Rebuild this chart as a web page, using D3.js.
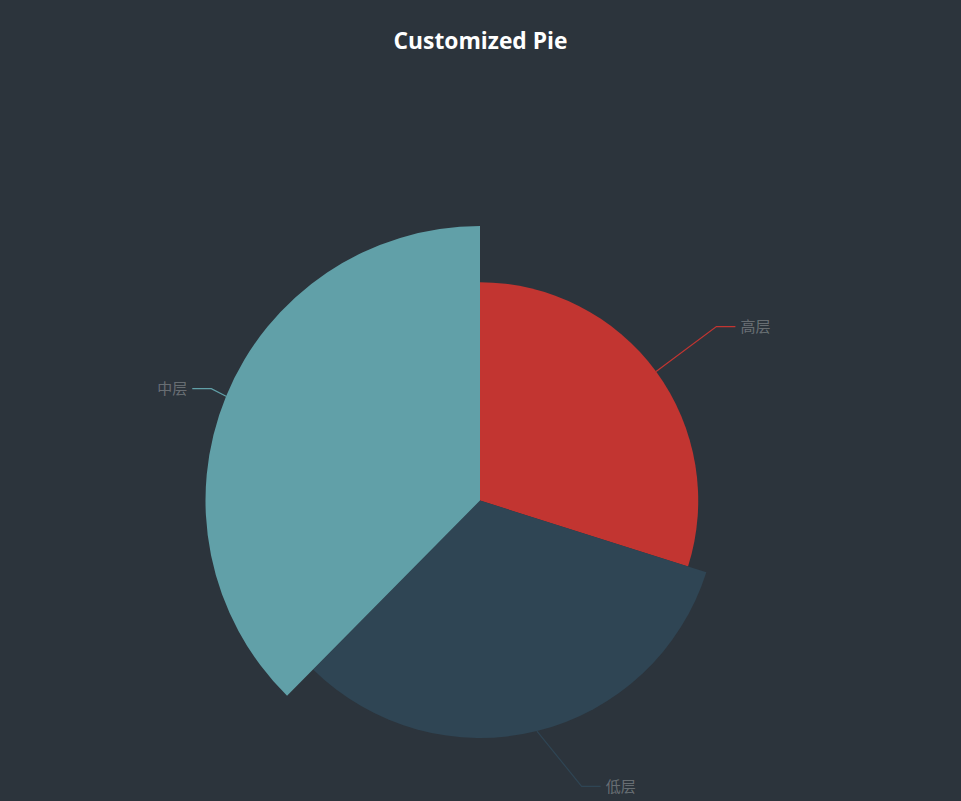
<!DOCTYPE html>
<html>
<head>
<meta charset="utf-8">
<script src="https://cdnjs.cloudflare.com/ajax/libs/d3/7.8.5/d3.min.js"></script>
<style>
  html, body { margin: 0; padding: 0; background: #2c343c; }
  svg { display: block; }
</style>
</head>
<body>
<svg id="chart" width="961" height="801"></svg>
<script>
// ---- data ----
const categories = ["高层", "低层", "中层"];
const values = [318, 346, 400];
const colors = ["#c23531", "#2f4554", "#61a0a8"];
const titleText = "Customized Pie";

// ---- layout ----
const W = 961, H = 801;
const cx = 480, cy = 500.5;
const rMax = 274.5;
const len = 20, len2 = 17;

const svg = d3.select("#chart");
svg.append("rect").attr("width", W).attr("height", H).attr("fill", "#2c343c");

const data = categories.map((c, i) => ({ name: c, value: values[i], color: colors[i] }));

const rScale = d3.scaleLinear().domain([0, d3.max(values)]).range([0, rMax]);
const pie = d3.pie().sort(null).value(d => d.value).startAngle(0).endAngle(2 * Math.PI);
const arcs = pie(data);

const arc = d3.arc().innerRadius(0).outerRadius(d => rScale(d.data.value));

const g = svg.append("g").attr("transform", `translate(${cx},${cy})`);
g.selectAll("path.slice").data(arcs).enter().append("path")
  .attr("class", "slice")
  .attr("d", arc)
  .attr("fill", d => d.data.color);

// ---- labels (echarts-like layout) ----
const R3 = rMax + len + len2;
arcs.forEach(d => {
  const mid = (d.startAngle + d.endAngle) / 2;
  const dx = Math.sin(mid), dy = -Math.cos(mid);
  const r = rScale(d.data.value);
  const x1 = cx + r * dx, y1 = cy + r * dy;
  const ly = cy + dy * (rMax + len);
  const deltaY = Math.abs(ly - cy);
  const dir = dx < 0 ? -1 : 1;
  const deltaX = Math.sqrt(R3 * R3 - deltaY * deltaY);
  const lx = cx + deltaX * dir;
  const x3 = lx - 3 * dir;
  const x2 = x3 - (len2 + 2) * dir;
  svg.append("polyline")
    .attr("points", [[x1, y1], [x2, ly], [x3, ly]].map(p => p.join(",")).join(" "))
    .attr("fill", "none")
    .attr("stroke", d.data.color)
    .attr("stroke-width", 1.2);
  svg.append("text")
    .attr("x", lx + 2 * dir)
    .attr("y", ly)
    .attr("dy", "0.35em")
    .attr("text-anchor", dir < 0 ? "end" : "start")
    .attr("font-family", "'Noto Sans CJK SC', sans-serif")
    .attr("font-size", 15)
    .attr("fill", "rgba(255,255,255,0.3)")
    .text(d.data.name);
});

// ---- title ----
const title = svg.append("text")
  .attr("x", W / 2)
  .attr("y", 49)
  .attr("text-anchor", "middle")
  .attr("font-family", "'Open Sans', sans-serif")
  .attr("font-weight", "bold")
  .attr("font-size", 22)
  .attr("fill", "#ffffff")
  .text(titleText);
const tw = title.node().getComputedTextLength();
title.attr("font-size", 22 * 174 / tw);
</script>
</body>
</html>
